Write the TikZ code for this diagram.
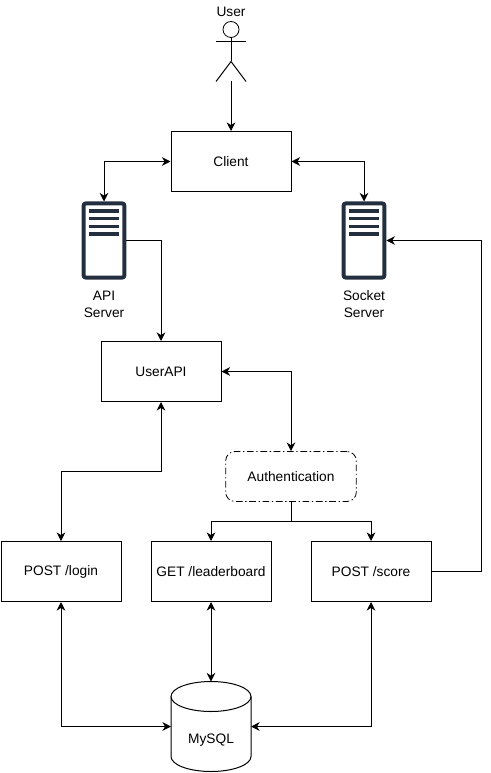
\documentclass[tikz,border=0pt]{standalone}
\usepackage{fontspec}
\setmainfont{Liberation Sans}
\usepackage{xcolor}
\usetikzlibrary{arrows.meta}
\definecolor{serverdark}{HTML}{232F3E}
\tikzset{
	apibox/.style={draw=black, line width=0.75pt, minimum width=90pt, minimum height=45pt, inner sep=0pt},
	authbox/.style={draw=black, line width=0.6pt, rounded corners=7pt, dash pattern=on 5pt off 2pt on 1pt off 2pt, minimum width=98pt, minimum height=37.5pt, inner sep=0pt},
	serverbox/.style={draw=serverdark, line width=3pt, rounded corners=1.5pt, minimum width=30.5pt, minimum height=55.5pt, inner sep=0pt},
	dbshape/.style={minimum width=60pt, minimum height=67.5pt, inner sep=0pt, outer sep=0pt},
	dbline/.style={line width=0.75pt},
	link/.style={line width=0.75pt, -{Stealth[length=6.5pt,width=6.5pt]}},
	duplex/.style={line width=0.75pt, {Stealth[length=6.5pt,width=6.5pt]}-{Stealth[length=6.5pt,width=6.5pt]}},
	plainlabel/.style={inner sep=0pt, align=center}
}
\begin{document}
\begin{tikzpicture}[x=0.75pt, y=-0.75pt, font=\fontsize{10.3}{12.75}\selectfont]
	\useasboundingbox (0, -0.5) rectangle (491, 772.5);

	% user figure
	\node[plainlabel] (userlabel) at (231, 11) {User};
	\node[draw=black, line width=0.6pt, circle, minimum size=16pt*0.75, inner sep=0pt] (userhead) at (231, 29) {};
	\coordinate (userhip) at (231, 61);
	\coordinate (userfoot) at (231, 81);
	\draw[line width=0.75pt] (userhead.south) -- (userhip);
	\draw[line width=0.75pt] (216, 41) -- (246, 41);
	\draw[line width=0.75pt] (216, 81) -- (userhip) -- (246, 81);

	% boxes
	\node[apibox] (client) at (231, 161) {Client};
	\node[apibox] (userapi) at (161, 371) {UserAPI};
	\node[authbox] (auth) at (291, 476) {Authentication};
	\node[apibox] (login) at (61, 571) {POST /login};
	\node[apibox] (leaderboard) at (211, 571) {GET /leaderboard};
	\node[apibox] (score) at (371, 571) {POST /score};

	% servers
	\node[serverbox] (apisrv) at (104, 240) {};
	\node[serverbox] (socksrv) at (364, 240) {};
	\foreach \srv in {apisrv, socksrv} {
		\foreach \dy in {-31, -23.4, -15.8, -8.2} {
			\fill[serverdark] ([shift={(-15, \dy)}]\srv.center) rectangle ++(29.5, 3.4);
		}
	}
	\node[plainlabel] (apilabel) at (104, 303.5) {API\\Server};
	\node[plainlabel] (socklabel) at (364, 303.5) {Socket\\Server};

	% database
	\node[dbshape] (mysql) at (211, 726) {};
	\draw[dbline] ([shift={(0, 15)}]mysql.north west) -- ([shift={(0, -15)}]mysql.south west)
		arc[start angle=180, end angle=0, x radius=40, y radius=15] -- ([shift={(0, 15)}]mysql.north east);
	\draw[dbline] ([shift={(0, 15)}]mysql.north) ellipse[x radius=40, y radius=15];
	\node[plainlabel] (mysqllabel) at (211, 740) {MySQL};

	% bends
	\coordinate (loginbend) at (161, 471);
	\coordinate (authfork) at (291, 521);
	\coordinate (scorebend) at (481, 571);

	% connectors
	\draw[link] (userfoot) -- (client.north);
	\draw[duplex] (client.west) -| (apisrv.north);
	\draw[duplex] (client.east) -| (socksrv.north);
	\draw[link] (apisrv.east) -| (userapi.north);
	\draw[duplex] (userapi.east) -| (auth.north);
	\draw[line width=0.75pt] (auth.south) -- (authfork);
	\draw[link] (authfork) -| (leaderboard.north);
	\draw[link] (authfork) -| (score.north);
	\draw[duplex] (userapi.south) |- (loginbend) -| (login.north);
	\draw[duplex] (login.south) |- (mysql.west);
	\draw[duplex] (leaderboard.south) -- (mysql.north);
	\draw[duplex] (score.south) |- (mysql.east);
	\draw[link] (score.east) -- (scorebend) |- (socksrv.east);
\end{tikzpicture}
\end{document}
